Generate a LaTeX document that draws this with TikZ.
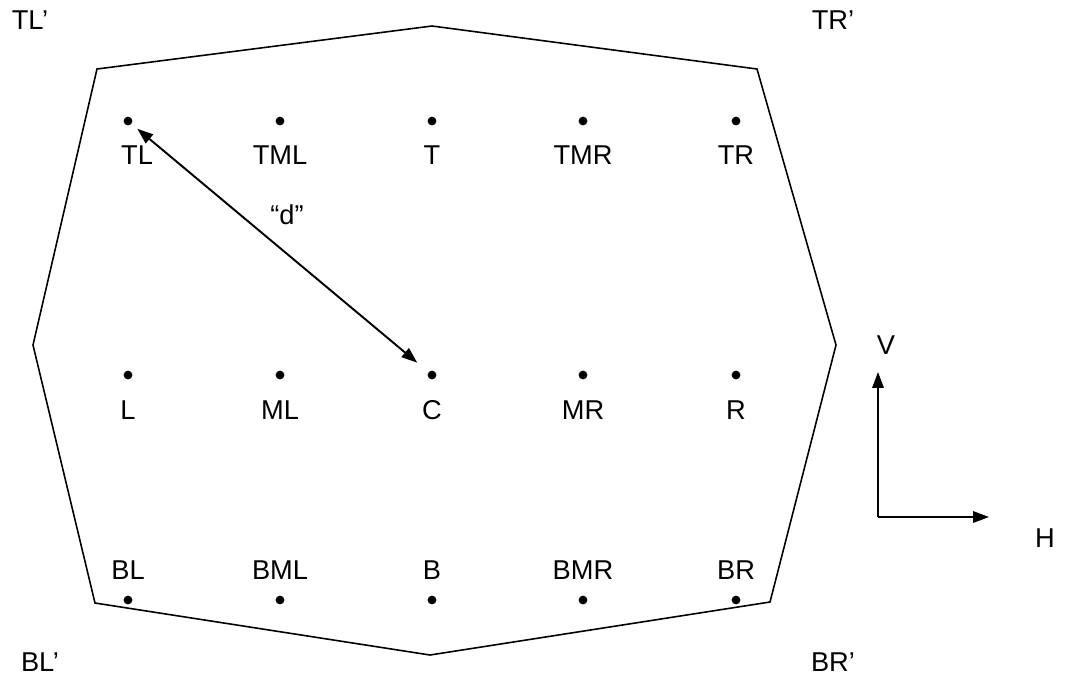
\documentclass[tikz,border=0pt]{standalone}
\usepackage{fontspec}
\setmainfont{Liberation Sans}
\usetikzlibrary{arrows.meta,positioning}
\tikzset{
  dot/.style={circle,fill=black,inner sep=0pt,minimum size=5pt},
  lbl/.style={inner sep=0pt,font=\fontsize{15.5}{18}\selectfont},
  arr/.style={-{Triangle[length=9pt,width=6.5pt]},line width=1.1pt}
}
\begin{document}
\begin{tikzpicture}[x=0.02cm,y=-0.02cm,line width=0.9pt]
  \useasboundingbox (0,0) rectangle (1065,677);
  % outline
  \draw (97,69) -- (432,26) -- (757,69) -- (836,345) -- (770,602)
        -- (430,655) -- (95,603) -- (33,345) -- cycle;
  % top row
  \node[dot] (TL)  at (128,121) {};
  \node[dot] (TML) at (280,121) {};
  \node[dot] (T)   at (432,121) {};
  \node[dot] (TMR) at (583,121) {};
  \node[dot] (TR)  at (736,121) {};
  \node[lbl] at (137,155) {TL};
  \node[lbl] at (280,155) {TML};
  \node[lbl] at (432,155) {T};
  \node[lbl] at (583,155) {TMR};
  \node[lbl] at (736,155) {TR};
  % middle row
  \node[dot] (L)  at (128,375) {};
  \node[dot] (ML) at (280,375) {};
  \node[dot] (C)  at (432,375) {};
  \node[dot] (MR) at (583,375) {};
  \node[dot] (R)  at (736,375) {};
  \node[lbl] at (128,410) {L};
  \node[lbl] at (280,410) {ML};
  \node[lbl] at (432,410) {C};
  \node[lbl] at (583,410) {MR};
  \node[lbl] at (736,410) {R};
  % bottom row
  \node[dot] (BL)  at (128,600) {};
  \node[dot] (BML) at (280,600) {};
  \node[dot] (B)   at (432,600) {};
  \node[dot] (BMR) at (583,600) {};
  \node[dot] (BR)  at (736,600) {};
  \node[lbl] at (128,570) {BL};
  \node[lbl] at (280,570) {BML};
  \node[lbl] at (432,570) {B};
  \node[lbl] at (583,570) {BMR};
  \node[lbl] at (736,570) {BR};
  % corners
  \node[lbl] at (30,20)   {TL’};
  \node[lbl] at (833,20)  {TR’};
  \node[lbl] at (40,662)  {BL’};
  \node[lbl] at (833,662) {BR’};
  % distance
  \draw[arr,{Triangle[length=9pt,width=6.5pt]}-{Triangle[length=9pt,width=6.5pt]},shorten <=4pt,shorten >=8pt] (TL) -- (C);
  \node[lbl] at (287,215) {“d”};
  % axes
  \coordinate (O) at (878,517);
  \coordinate (Vtip) at (878,372);
  \coordinate (Htip) at (989,517);
  \draw[arr,line width=0.9pt] (O) -- (Vtip);
  \draw[arr,line width=0.9pt] (O) -- (Htip);
  \node[lbl] at (886,345)  {V};
  \node[lbl] at (1045,538) {H};
\end{tikzpicture}
\end{document}
